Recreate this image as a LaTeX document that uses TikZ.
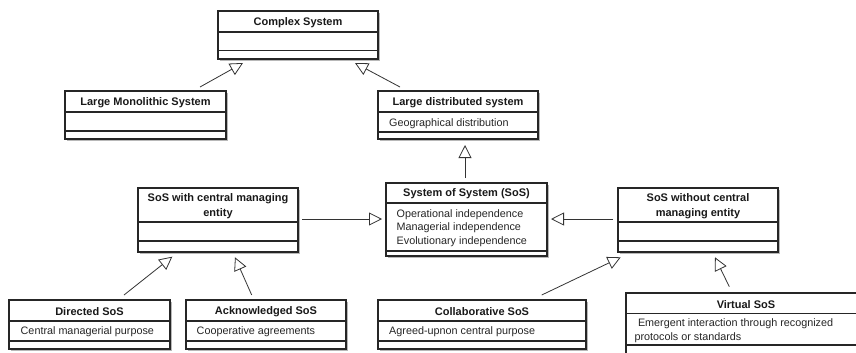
\documentclass[tikz,border=0pt]{standalone}
\usepackage{fontspec}
\setmainfont{Liberation Sans}
\usetikzlibrary{arrows.meta}
\tikzset{
 umlbox/.style={draw=black!85, line width=1.1pt, fill=white, inner sep=0pt, outer sep=0pt, anchor=north west},
 umlshadow/.style={fill=black!28},
 divider/.style={draw=black!85, line width=1.1pt},
 umltitle/.style={font=\fontsize{11}{15}\selectfont\bfseries, align=center, inner sep=0pt, text=black!90},
 umlbody/.style={font=\fontsize{10.8}{13.5}\selectfont, align=left, inner sep=0pt, anchor=north west, text=black!85},
 gen/.style={draw=black!80, line width=0.8pt, -{Triangle[open, length=13pt, width=13pt]}},
}
\newcommand\ubox[8]{%
 \fill[umlshadow] ({#2+2},{#3+2}) rectangle ({#4+2},{#5+2});
 \node[umlbox, minimum width={(#4-#2)*1pt}, minimum height={(#5-#3)*1pt}] (#1) at (#2,#3) {};
 \draw[divider] (#2,#6) -- (#4,#6);
 \draw[divider] (#2,#7) -- (#4,#7);
 \node[umltitle] (#1-title) at ({(#2+#4)/2},{(#3+#6)/2+1}) {#8};
}
\begin{document}
\begin{tikzpicture}[x=1pt,y=-1pt]
\useasboundingbox (0,0) rectangle (856,353);
\clip (0,0) rectangle (856,353);
% boxes
\ubox{cs}{218}{11}{378}{59}{32}{50.7}{Complex System}
\ubox{lms}{65}{91}{226}{139}{112}{131}{Large Monolithic System}
\ubox{lds}{378}{91}{538}{139}{112}{132}{Large distributed system}
\ubox{sos}{386}{183}{547}{256}{203}{251}{System of System (SoS)}
\ubox{swc}{138}{188}{298}{252}{222}{241}{SoS with central managing\\entity}
\ubox{swo}{618}{188}{778}{252}{222}{241}{SoS without central\\managing entity}
\ubox{dir}{9}{300}{170}{349}{321}{341}{Directed SoS}
\ubox{ack}{186}{300}{346}{349}{321}{341}{Acknowledged SoS}
\ubox{col}{378}{300}{586}{349}{321}{341}{Collaborative SoS}
\ubox{vir}{626}{293}{866}{366}{313.5}{345}{Virtual SoS}
% body texts
\node[umlbody] (lds-body) at (389,118) {Geographical distribution};
\node[umlbody] (sos-body) at (396.5,209) {Operational independence\\Managerial independence\\Evolutionary independence};
\node[umlbody] (dir-body) at (20.5,326.7) {Central managerial purpose};
\node[umlbody] (ack-body) at (196.5,326.7) {Cooperative agreements};
\node[umlbody] (col-body) at (389,326.7) {Agreed-upnon central purpose};
\node[umlbody] (vir-body) at (634.3,318.5) {\hspace*{3.5pt}Emergent interaction through recognized\\protocols or standards};
% connector end points
\coordinate (c1s) at (200,87);   \coordinate (c1e) at (243,63);
\coordinate (c2s) at (400,87);   \coordinate (c2e) at (355,63);
\coordinate (c3s) at (465,178);  \coordinate (c3e) at (465,145);
\coordinate (c4s) at (302,219);  \coordinate (c4e) at (382,219);
\coordinate (c5s) at (613,219);  \coordinate (c5e) at (551,219);
\coordinate (c6s) at (124,295);  \coordinate (c6e) at (172.3,256.7);
\coordinate (c7s) at (251.7,295);\coordinate (c7e) at (235,257.3);
\coordinate (c8s) at (541.7,295);\coordinate (c8e) at (620.7,257.3);
\coordinate (c9s) at (729.3,286.7);\coordinate (c9e) at (715,257.3);
% generalizations
\draw[gen] (c1s) -- (c1e);
\draw[gen] (c2s) -- (c2e);
\draw[gen] (c3s) -- (c3e);
\draw[gen] (c4s) -- (c4e);
\draw[gen] (c5s) -- (c5e);
\draw[gen] (c6s) -- (c6e);
\draw[gen] (c7s) -- (c7e);
\draw[gen] (c8s) -- (c8e);
\draw[gen] (c9s) -- (c9e);
\end{tikzpicture}
\end{document}
